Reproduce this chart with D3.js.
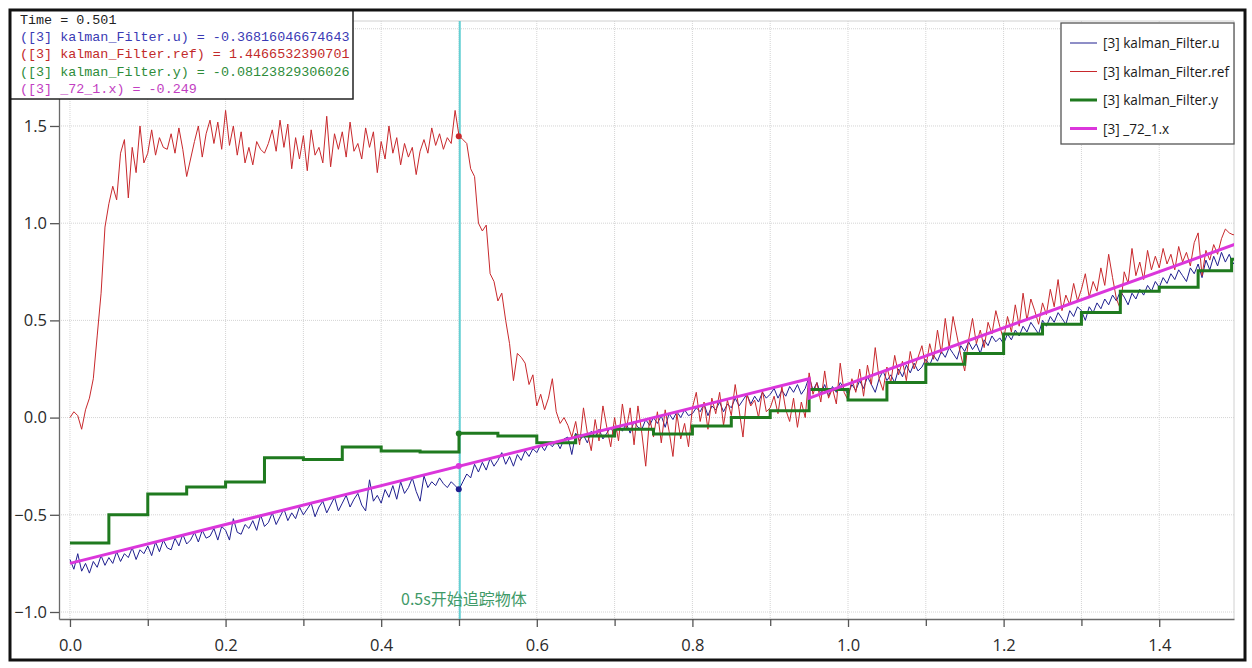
<!DOCTYPE html>
<html>
<head>
<meta charset="utf-8">
<script src="https://cdn.jsdelivr.net/npm/d3@7"></script>
<style>
  body { margin: 0; background: #fff; }
  svg { display: block; }
</style>
</head>
<body>
<svg id="chart"></svg>
<script>
// Sample spacing of the simulation output (seconds)
const dt = 0.005;

// [3] kalman_Filter.ref, one value per dt from 0 to 1.5 s
const refValues = [
  0.00, 0.03, 0.01, -0.06, 0.04, 0.10, 0.20, 0.42, 0.64, 0.98, 1.10, 1.19, 1.12, 1.36, 1.43, 1.13, 1.39, 1.26, 1.50, 1.31,
  1.36, 1.48, 1.35, 1.44, 1.39, 1.38, 1.46, 1.36, 1.49, 1.38, 1.24, 1.33, 1.42, 1.50, 1.34, 1.46, 1.53, 1.41, 1.52, 1.38,
  1.58, 1.40, 1.50, 1.35, 1.47, 1.31, 1.39, 1.30, 1.42, 1.38, 1.36, 1.41, 1.48, 1.37, 1.53, 1.39, 1.51, 1.28, 1.44, 1.33,
  1.45, 1.27, 1.48, 1.35, 1.39, 1.31, 1.55, 1.29, 1.46, 1.38, 1.47, 1.34, 1.52, 1.37, 1.41, 1.33, 1.49, 1.39, 1.47, 1.26,
  1.42, 1.33, 1.50, 1.36, 1.44, 1.30, 1.41, 1.34, 1.39, 1.25, 1.37, 1.43, 1.36, 1.49, 1.40, 1.46, 1.38, 1.44, 1.41, 1.58,
  1.45, 1.43, 1.41, 1.28, 1.24, 1.00, 0.96, 0.99, 0.74, 0.70, 0.60, 0.64, 0.50, 0.38, 0.19, 0.33, 0.31, 0.28, 0.17, 0.22,
  0.06, 0.12, 0.04, 0.10, 0.20, 0.03, -0.03, 0.00, -0.04, -0.10, -0.02, -0.14, 0.05, -0.08, -0.17, -0.01, -0.12, 0.06, -0.05, -0.15,
  0.00, -0.12, 0.07, -0.06, 0.05, -0.14, 0.06, -0.08, -0.25, 0.00, -0.10, 0.03, -0.13, 0.04, -0.07, -0.20, 0.02, -0.11, -0.03, -0.15,
  0.05, 0.13, -0.02, 0.08, -0.06, 0.10, 0.02, 0.13, -0.04, 0.09, 0.01, 0.17, 0.04, -0.10, 0.12, 0.06, 0.09, 0.00, 0.14, 0.03,
  0.05, 0.11, 0.02, 0.16, 0.04, -0.02, 0.10, -0.05, 0.08, 0.00, 0.23, 0.12, 0.18, 0.08, 0.24, 0.10, 0.15, 0.07, 0.28, 0.13,
  0.09, 0.20, 0.13, 0.25, 0.11, 0.27, 0.17, 0.36, 0.20, 0.14, 0.26, 0.18, 0.32, 0.22, 0.29, 0.19, 0.34, 0.25, 0.31, 0.37,
  0.26, 0.38, 0.30, 0.45, 0.33, 0.51, 0.36, 0.52, 0.42, 0.32, 0.24, 0.40, 0.51, 0.38, 0.45, 0.36, 0.49, 0.43, 0.55, 0.47,
  0.40, 0.52, 0.44, 0.58, 0.47, 0.64, 0.50, 0.61, 0.55, 0.48, 0.59, 0.53, 0.66, 0.57, 0.71, 0.55, 0.63, 0.58, 0.69, 0.60,
  0.66, 0.74, 0.62, 0.70, 0.65, 0.77, 0.68, 0.84, 0.72, 0.61, 0.56, 0.75, 0.69, 0.87, 0.73, 0.80, 0.71, 0.86, 0.76, 0.83,
  0.77, 0.87, 0.79, 0.84, 0.76, 0.88, 0.80, 0.85, 0.78, 0.90, 0.95, 0.73, 0.86, 0.81, 0.89, 0.84, 0.92, 0.97, 0.95, 0.94,
  0.95
];

// [3] kalman_Filter.u, same sampling
const uValues = [
  -0.73, -0.78, -0.70, -0.79, -0.75, -0.80, -0.74, -0.77, -0.71, -0.76, -0.72, -0.75, -0.69, -0.74, -0.70, -0.72, -0.67, -0.73, -0.68, -0.70,
  -0.66, -0.71, -0.64, -0.69, -0.63, -0.67, -0.68, -0.62, -0.66, -0.60, -0.65, -0.63, -0.59, -0.64, -0.58, -0.62, -0.61, -0.57, -0.63, -0.56,
  -0.58, -0.63, -0.52, -0.59, -0.60, -0.55, -0.57, -0.53, -0.58, -0.50, -0.56, -0.54, -0.49, -0.55, -0.51, -0.47, -0.53, -0.49, -0.52, -0.46,
  -0.50, -0.47, -0.44, -0.51, -0.46, -0.43, -0.49, -0.45, -0.41, -0.48, -0.44, -0.40, -0.46, -0.42, -0.39, -0.45, -0.48, -0.32, -0.43, -0.40,
  -0.44, -0.37, -0.41, -0.35, -0.42, -0.33, -0.39, -0.36, -0.31, -0.38, -0.43, -0.30, -0.36, -0.33, -0.35, -0.31, -0.34, -0.36, -0.33, -0.35,
  -0.37, -0.33, -0.29, -0.31, -0.24, -0.28, -0.23, -0.27, -0.21, -0.25, -0.22, -0.18, -0.24, -0.20, -0.25, -0.19, -0.22, -0.17, -0.20, -0.16,
  -0.18, -0.14, -0.17, -0.13, -0.15, -0.12, -0.16, -0.11, -0.10, -0.19, -0.08, -0.12, -0.09, -0.13, -0.07, -0.10, -0.06, -0.11, -0.08, -0.05,
  -0.09, -0.04, -0.07, -0.03, -0.08, -0.02, -0.05, -0.06, -0.01, -0.04, 0.00, -0.03, 0.01, -0.05, 0.02, -0.01, 0.03, 0.00, 0.04, 0.01,
  0.02, 0.05, 0.03, 0.07, 0.01, 0.06, 0.04, 0.08, 0.03, 0.07, 0.05, 0.10, 0.06, 0.09, 0.12, 0.07, 0.11, 0.08, 0.13, 0.10,
  0.12, 0.15, 0.10, 0.14, 0.11, 0.16, 0.13, 0.17, 0.12, 0.15, 0.21, 0.14, 0.18, 0.12, 0.17, 0.11, 0.16, 0.13, 0.18, 0.15,
  0.12, 0.17, 0.14, 0.19, 0.15, 0.21, 0.17, 0.13, 0.20, 0.24, 0.19, 0.22, 0.18, 0.25, 0.21, 0.27, 0.23, 0.28, 0.24, 0.26,
  0.30, 0.27, 0.32, 0.29, 0.34, 0.31, 0.36, 0.33, 0.30, 0.37, 0.34, 0.39, 0.35, 0.38, 0.33, 0.40, 0.37, 0.42, 0.39, 0.41,
  0.38, 0.43, 0.40, 0.45, 0.42, 0.47, 0.44, 0.49, 0.46, 0.43, 0.50, 0.47, 0.52, 0.49, 0.54, 0.51, 0.48, 0.55, 0.52, 0.57,
  0.55, 0.50, 0.57, 0.54, 0.59, 0.56, 0.61, 0.58, 0.63, 0.60, 0.65, 0.62, 0.58, 0.64, 0.61, 0.66, 0.63, 0.68, 0.65, 0.70,
  0.67, 0.72, 0.69, 0.74, 0.71, 0.76, 0.73, 0.70, 0.77, 0.74, 0.79, 0.72, 0.81, 0.76, 0.83, 0.78, 0.85, 0.80, 0.84, 0.79,
  0.82
];

// [3] kalman_Filter.y, held value changes every 0.05 s
const yTimes = [0, 0.05, 0.10, 0.15, 0.20, 0.25, 0.30, 0.35, 0.40, 0.45, 0.50, 0.55, 0.60, 0.65, 0.70,
  0.75, 0.80, 0.85, 0.90, 0.95, 1.00, 1.05, 1.10, 1.15, 1.20, 1.25, 1.30, 1.35, 1.40, 1.45, 1.493, 1.50];
const yValues = [-0.645, -0.50, -0.393, -0.357, -0.331, -0.207, -0.215, -0.151, -0.172, -0.177, -0.081, -0.095, -0.13, -0.095, -0.06,
  -0.085, -0.043, 0.0, 0.035, 0.145, 0.09, 0.18, 0.275, 0.33, 0.43, 0.48, 0.54, 0.65, 0.67, 0.755, 0.815, 0.815];

// [3] _72_1.x, two straight pieces with a jump at 0.95 s
const xTimes = [0, 0.95, 0.95, 1.5];
const xValues = [-0.75, 0.20, 0.10, 0.895];

// cursor readout
const cursorTime = 0.501;
const cursorU = -0.36816046674643;
const cursorRef = 1.4466532390701;
const cursorY = -0.08123829306026;
const cursorX = -0.249;

const xMajorTicks = [0, 0.2, 0.4, 0.6, 0.8, 1.0, 1.2, 1.4];
const xMinorTicks = [0.1, 0.3, 0.5, 0.7, 0.9, 1.1, 1.3];
const yTicks = [-1.0, -0.5, 0.0, 0.5, 1.0, 1.5];
const yGrid = [-1.0, -0.5, 0.0, 0.5, 1.0, 1.5, 2.0];

const seriesNames = ['[3] kalman_Filter.u', '[3] kalman_Filter.ref', '[3] kalman_Filter.y', '[3] _72_1.x'];
const seriesColors = ['#1f1f8f', '#c8282c', '#1f7a1f', '#db36db'];
const seriesWidths = [1, 1, 3, 3];

const W = 1252, H = 668;
const plot = { left: 59, right: 1234, top: 21, bottom: 619 };

const svg = d3.select('#chart').attr('width', W).attr('height', H);

const x = d3.scaleLinear().domain([-0.0141, 1.4961]).range([plot.left, plot.right]);
const y = d3.scaleLinear().domain([-1.036, 2.04]).range([plot.bottom, plot.top]);

svg.append('defs').append('clipPath').attr('id', 'plotClip')
  .append('rect')
  .attr('x', plot.left).attr('y', plot.top)
  .attr('width', plot.right - plot.left).attr('height', plot.bottom - plot.top);

// grid
const grid = svg.append('g');
grid.selectAll('.vg')
  .data(xMajorTicks.concat(xMinorTicks))
  .enter().append('line')
  .attr('x1', d => x(d)).attr('x2', d => x(d))
  .attr('y1', plot.top).attr('y2', plot.bottom)
  .attr('stroke', '#d4d4d4').attr('stroke-dasharray', '1,1');
grid.selectAll('.hg')
  .data(yGrid)
  .enter().append('line')
  .attr('x1', plot.left).attr('x2', plot.right)
  .attr('y1', d => y(d)).attr('y2', d => y(d))
  .attr('stroke', '#d4d4d4').attr('stroke-dasharray', '1,1');
// light border on top and right of plot
grid.append('path')
  .attr('d', `M${plot.left},${plot.top}H${plot.right}V${plot.bottom}`)
  .attr('fill', 'none').attr('stroke', '#d0d0d0');

// axes
const xAxis = svg.append('g')
  .attr('transform', `translate(0,${plot.bottom})`)
  .call(d3.axisBottom(x).tickValues(xMajorTicks).tickFormat(d3.format('.1f')).tickSize(8).tickSizeOuter(0));
svg.append('g')
  .attr('transform', `translate(0,${plot.bottom})`)
  .call(d3.axisBottom(x).tickValues(xMinorTicks).tickFormat('').tickSize(7).tickSizeOuter(0))
  .select('.domain').remove();
const yAxis = svg.append('g')
  .attr('transform', `translate(${plot.left},0)`)
  .call(d3.axisLeft(y).tickValues(yTicks).tickFormat(d3.format('.1f')).tickSize(9).tickSizeOuter(0));

svg.selectAll('.domain').attr('stroke', '#6a6a6a').attr('stroke-width', 1.3);
svg.selectAll('.tick line').attr('stroke', '#555').attr('stroke-width', 1.3);
svg.selectAll('.tick text')
  .attr('font-family', '"Open Sans", "Noto Sans", sans-serif')
  .attr('font-size', 16.5).attr('fill', '#2a2a2a');
xAxis.selectAll('.tick text').attr('dy', '1.25em');
yAxis.selectAll('.tick text').attr('x', -12);

// cursor line at 0.5 s
svg.append('line')
  .attr('x1', x(cursorTime)).attr('x2', x(cursorTime))
  .attr('y1', plot.top).attr('y2', plot.bottom)
  .attr('stroke', '#63cfd3').attr('stroke-width', 2);

// series
const lines = svg.append('g').attr('clip-path', 'url(#plotClip)');
const sampleLine = d3.line().x((d, i) => x(i * dt)).y(d => y(d));

lines.append('path').datum(uValues)
  .attr('d', sampleLine)
  .attr('fill', 'none').attr('stroke', seriesColors[0]).attr('stroke-width', seriesWidths[0]);
lines.append('path').datum(refValues)
  .attr('d', sampleLine)
  .attr('fill', 'none').attr('stroke', seriesColors[1]).attr('stroke-width', seriesWidths[1]);

const stepLine = d3.line().curve(d3.curveStepAfter).x(d => x(d[0])).y(d => y(d[1]));
lines.append('path').datum(d3.zip(yTimes, yValues))
  .attr('d', stepLine)
  .attr('fill', 'none').attr('stroke', seriesColors[2]).attr('stroke-width', seriesWidths[2]);

const straight = d3.line().x(d => x(d[0])).y(d => y(d[1]));
lines.append('path').datum(d3.zip(xTimes, xValues))
  .attr('d', straight)
  .attr('fill', 'none').attr('stroke', seriesColors[3]).attr('stroke-width', seriesWidths[3]);

// cursor markers
const cursorVals = [cursorU, cursorRef, cursorY, cursorX];
svg.selectAll('.marker')
  .data(cursorVals)
  .enter().append('circle')
  .attr('cx', x(cursorTime) - 1)
  .attr('cy', d => y(d))
  .attr('r', 3)
  .attr('fill', (d, i) => seriesColors[i]);

// annotation
svg.append('text')
  .attr('x', 401).attr('y', 605)
  .attr('font-family', '"Noto Sans CJK SC", "Open Sans", sans-serif')
  .attr('font-size', 16)
  .attr('fill', '#3f9a68')
  .text('0.5s开始追踪物体');

// legend
const legend = svg.append('g');
legend.append('rect')
  .attr('x', 1061).attr('y', 23).attr('width', 173).attr('height', 121)
  .attr('fill', '#fff').attr('stroke', '#555').attr('stroke-width', 1.3);
seriesNames.forEach((name, i) => {
  const ly = 43 + i * 28.5;
  legend.append('line')
    .attr('x1', 1070).attr('x2', 1097).attr('y1', ly).attr('y2', ly)
    .attr('stroke', seriesColors[i]).attr('stroke-width', seriesWidths[i]);
  legend.append('text')
    .attr('x', 1103).attr('y', ly + 5)
    .attr('font-family', '"Open Sans", "Noto Sans", sans-serif')
    .attr('font-size', 13.6)
    .attr('fill', '#1a1a1a')
    .text(name);
});

// value readout box
const info = svg.append('g');
info.append('clipPath').attr('id', 'infoClip')
  .append('rect').attr('x', 10).attr('y', 10).attr('width', 343).attr('height', 89);
info.append('rect')
  .attr('x', 10).attr('y', 10).attr('width', 343).attr('height', 89)
  .attr('fill', '#fff').attr('stroke', '#222').attr('stroke-width', 1.5);
const infoLines = [
  { t: 'Time = 0.501', c: '#222' },
  { t: '([3] kalman_Filter.u) = ' + cursorU, c: '#3a3ab4' },
  { t: '([3] kalman_Filter.ref) = ' + cursorRef, c: '#c22a2a' },
  { t: '([3] kalman_Filter.y) = ' + cursorY, c: '#2e8c3a' },
  { t: '([3] _72_1.x) = ' + cursorX, c: '#c23ec2' }
];
info.append('g').attr('clip-path', 'url(#infoClip)')
  .selectAll('text')
  .data(infoLines)
  .enter().append('text')
  .attr('x', 20)
  .attr('y', (d, i) => 24 + i * 17.2)
  .attr('font-family', '"Liberation Mono", "DejaVu Sans Mono", monospace')
  .attr('font-size', 13.4)
  .attr('fill', d => d.c)
  .text(d => d.t);

// outer frame
svg.append('rect')
  .attr('x', 10).attr('y', 10).attr('width', 1235).attr('height', 650)
  .attr('fill', 'none').attr('stroke', '#111').attr('stroke-width', 3);
</script>
</body>
</html>
